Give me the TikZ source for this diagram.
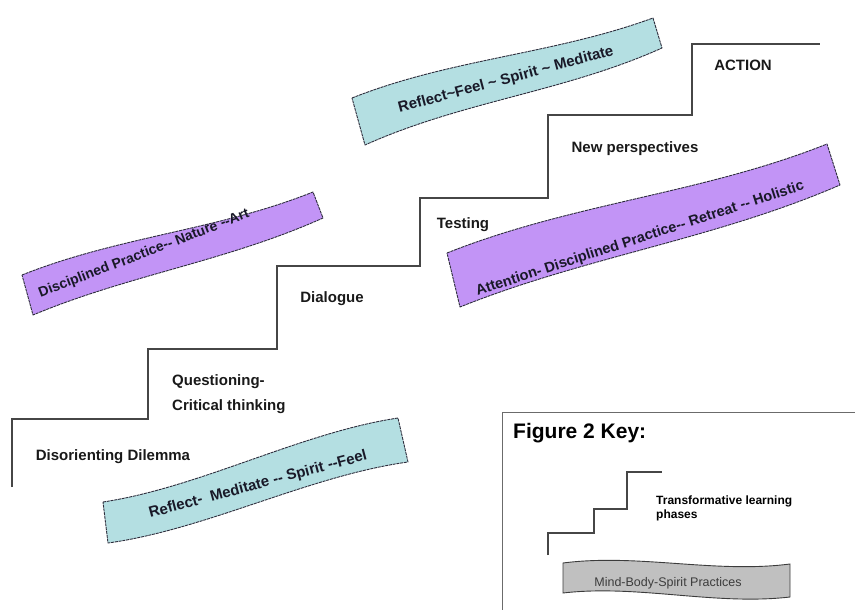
\documentclass[tikz,border=0pt]{standalone}
\usepackage{fontspec}
\setmainfont{Liberation Sans}
\usetikzlibrary{calc}
\definecolor{cyanfill}{RGB}{180,223,226}
\definecolor{purplefill}{RGB}{194,148,246}
\definecolor{grayfill}{RGB}{192,192,192}
\definecolor{stairline}{RGB}{70,70,70}
\definecolor{edgecol}{RGB}{45,45,60}
\definecolor{bannertext}{RGB}{25,25,40}
\definecolor{keytext}{RGB}{60,60,60}
\begin{document}
\begin{tikzpicture}[x=1pt,y=-1pt,
  stair/.style={draw=stairline, line width=1.2pt},
  keyline/.style={draw=stairline!80, line width=1pt},
  banner/.style={draw=edgecol, line width=0.9pt, line join=round, dash pattern=on 3pt off 0.8pt},
  steplabel/.style={font=\bfseries\fontsize{15}{18}\selectfont, text=black!90, inner sep=0pt, anchor=base},
  bannerlabel/.style={text=bannertext, inner sep=0pt},
]
\useasboundingbox (0,0) rectangle (855,610);

% ---------- staircase ----------
\coordinate (s0) at (12,487);
\coordinate (s1) at (12,419);
\coordinate (s2) at (148,419);
\coordinate (s3) at (148,349);
\coordinate (s4) at (277,349);
\coordinate (s5) at (277,266);
\coordinate (s6) at (420,266);
\coordinate (s7) at (420,198);
\coordinate (s8) at (548,198);
\coordinate (s9) at (548,115);
\coordinate (s10) at (692,115);
\coordinate (s11) at (692,44);
\coordinate (s12) at (820,44);
\draw[stair] (s0) -- (s1) -- (s2) -- (s3) -- (s4) -- (s5) -- (s6) -- (s7) -- (s8) -- (s9) -- (s10) -- (s11) -- (s12);

\node[steplabel] (action) at (743,71) {ACTION};
\node[steplabel] (newp) at (635,153) {New perspectives};
\node[steplabel] (testing) at (463,228) {Testing};
\node[steplabel] (dialogue) at (332,302) {Dialogue};
\node[steplabel, anchor=base west] (quest) at (172,385) {Questioning-};
\node[steplabel, anchor=base west] (crit) at (172,410) {Critical thinking};
\node[steplabel] (dilemma) at (113,460) {Disorienting Dilemma};

% ---------- banner 1 (cyan, top) ----------
\coordinate (aLT) at (352,98);
\coordinate (aRT) at (653,18);
\coordinate (aRB) at (662,48);
\coordinate (aLB) at (365,145);
\draw[banner, fill=cyanfill]
  (aLT) .. controls ($(aLT)!0.33!(aRT)+(0,-13)$) and ($(aLT)!0.67!(aRT)+(0,10)$) .. (aRT)
  -- (aRB) .. controls ($(aLB)!0.67!(aRB)+(0,12)$) and ($(aLB)!0.33!(aRB)+(0,-12)$) .. (aLB) -- cycle;
\node[bannerlabel, rotate=15, font=\bfseries\fontsize{15}{18}\selectfont] (t1) at (506,80)
  {Reflect\textasciitilde Feel \textasciitilde\ Spirit \textasciitilde\ Meditate};

% ---------- banner 2 (purple, left) ----------
\coordinate (bLT) at (22,275);
\coordinate (bRT) at (313,192);
\coordinate (bRB) at (323,218);
\coordinate (bLB) at (33,315);
\draw[banner, fill=purplefill]
  (bLT) .. controls ($(bLT)!0.33!(bRT)+(0,-11)$) and ($(bLT)!0.67!(bRT)+(0,11)$) .. (bRT)
  -- (bRB) .. controls ($(bLB)!0.67!(bRB)+(0,11)$) and ($(bLB)!0.33!(bRB)+(0,-8)$) .. (bLB) -- cycle;
\node[bannerlabel, rotate=21, font=\bfseries\fontsize{14}{17}\selectfont] (t2) at (144,254)
  {Disciplined Practice-{}- Nature -{}-Art};

% ---------- banner 3 (purple, right) ----------
\coordinate (cLT) at (447,253);
\coordinate (cRT) at (827,144);
\coordinate (cRB) at (840,185);
\coordinate (cLB) at (460,307);
\draw[banner, fill=purplefill]
  (cLT) .. controls ($(cLT)!0.33!(cRT)+(0,-14)$) and ($(cLT)!0.67!(cRT)+(0,14)$) .. (cRT)
  -- (cRB) .. controls ($(cLB)!0.67!(cRB)+(0,14)$) and ($(cLB)!0.33!(cRB)+(0,-10)$) .. (cLB) -- cycle;
\node[bannerlabel, rotate=18, font=\bfseries\fontsize{14.5}{17}\selectfont] (t3) at (640,239)
  {Attention- Disciplined Practice-{}- Retreat -{}- Holistic};

% ---------- banner 4 (cyan, bottom) ----------
\coordinate (dLT) at (103,502);
\coordinate (dRT) at (398,418);
\coordinate (dRB) at (408,462);
\coordinate (dLB) at (108,543);
\draw[banner, fill=cyanfill]
  (dLT) .. controls ($(dLT)!0.33!(dRT)+(0,13)$) and ($(dLT)!0.67!(dRT)+(0,-13)$) .. (dRT)
  -- (dRB) .. controls ($(dLB)!0.67!(dRB)+(0,-13)$) and ($(dLB)!0.33!(dRB)+(0,13)$) .. (dLB) -- cycle;
\node[bannerlabel, rotate=15, font=\bfseries\fontsize{15}{18}\selectfont] (t4) at (258,485)
  {Reflect-\ \ Meditate -{}- Spirit -{}-Feel};

% ---------- key ----------
\coordinate (k0) at (502,610);
\coordinate (k1) at (502,412);
\coordinate (k2) at (855,412);
\draw[keyline] (k0) -- (k1) -- (k2);
\node[anchor=base west, inner sep=0pt, font=\bfseries\fontsize{21}{24}\selectfont] (keytitle) at (513,438) {Figure 2 Key:};

\coordinate (m0) at (548,555);
\coordinate (m1) at (548,533);
\coordinate (m2) at (594,533);
\coordinate (m3) at (594,509);
\coordinate (m4) at (627,509);
\coordinate (m5) at (627,472);
\coordinate (m6) at (662,472);
\draw[stair] (m0) -- (m1) -- (m2) -- (m3) -- (m4) -- (m5) -- (m6);
\node[anchor=base west, inner sep=0pt, font=\bfseries\fontsize{12}{14}\selectfont] (tl1) at (656,504) {Transformative learning};
\node[anchor=base west, inner sep=0pt, font=\bfseries\fontsize{12}{14}\selectfont] (tl2) at (656,518) {phases};

\coordinate (gLT) at (563,563);
\coordinate (gRT) at (790,564);
\coordinate (gRB) at (790,597);
\coordinate (gLB) at (563,593);
\draw[draw=keytext, line width=0.9pt, fill=grayfill]
  (gLT) .. controls ($(gLT)!0.33!(gRT)+(0,-10)$) and ($(gLT)!0.67!(gRT)+(0,10)$) .. (gRT)
  -- (gRB) .. controls ($(gLB)!0.67!(gRB)+(0,10)$) and ($(gLB)!0.33!(gRB)+(0,-10)$) .. (gLB) -- cycle;
\node[anchor=base, inner sep=0pt, text=keytext, font=\fontsize{12.5}{15}\selectfont] (mbs) at (668,586) {Mind-Body-Spirit Practices};
\end{tikzpicture}
\end{document}
